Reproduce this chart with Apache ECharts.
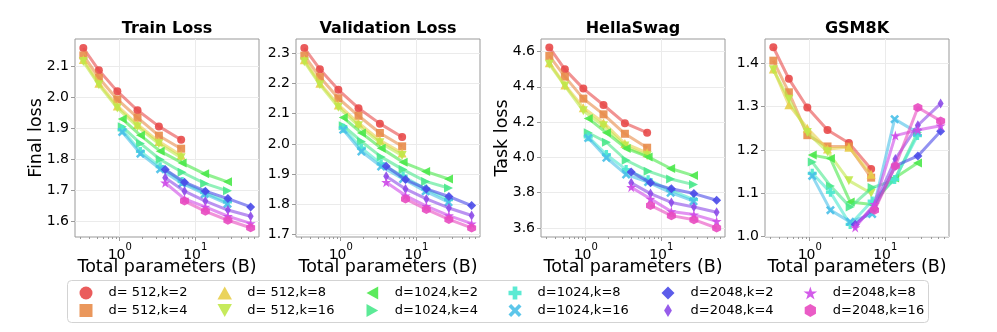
<!DOCTYPE html>
<html>
<head>
<meta charset="utf-8">
<script src="https://cdn.jsdelivr.net/npm/echarts@6/dist/echarts.min.js"></script>
<style>
  html, body { margin: 0; padding: 0; background: #fff; }
  #chart { width: 997px; height: 332px; }
</style>
</head>
<body>
<div id="chart"></div>
<script>
const seriesNames = ['d= 512,k=2', 'd= 512,k=4', 'd= 512,k=8', 'd= 512,k=16',
  'd=1024,k=2', 'd=1024,k=4', 'd=1024,k=8', 'd=1024,k=16',
  'd=2048,k=2', 'd=2048,k=4', 'd=2048,k=8', 'd=2048,k=16'];
const seriesColors = ['#e84a4a', '#e88c4a', '#e8ce4a', '#c0e84a',
  '#4ae84a', '#4ae88c', '#4ae8ce', '#4ac0e8',
  '#4a4ae8', '#8c4ae8', '#ce4ae8', '#e84ac0'];

// total parameters (B) of each model size
const paramsD512 = [0.33, 0.53, 0.93, 1.72, 3.3, 6.5];
const paramsD1024 = [1.08, 1.88, 3.43, 6.7, 13.3, 26.7];
const paramsD2048 = [4.0, 7.2, 13.6, 27, 54];
const paramsD2048k16 = [7.2, 13.6, 27, 54];

// one row per series, same order as seriesNames
const trainLoss = [
  [2.159, 2.087, 2.019, 1.958, 1.906, 1.863],
  [2.135, 2.063, 1.993, 1.934, 1.876, 1.834],
  [2.122, 2.045, 1.972, 1.912, 1.857, 1.813],
  [2.115, 2.040, 1.965, 1.905, 1.850, 1.805],
  [1.930, 1.877, 1.826, 1.788, 1.753, 1.727],
  [1.905, 1.851, 1.799, 1.758, 1.722, 1.698],
  [1.895, 1.825, 1.776, 1.728, 1.692, 1.662],
  [1.888, 1.818, 1.768, 1.722, 1.688, 1.656],
  [1.767, 1.726, 1.697, 1.673, 1.646],
  [1.740, 1.697, 1.665, 1.636, 1.616],
  [1.724, 1.672, 1.646, 1.616, 1.593],
  [1.665, 1.632, 1.603, 1.579]
];
const validLoss = [
  [2.317, 2.247, 2.179, 2.118, 2.067, 2.023],
  [2.292, 2.221, 2.151, 2.093, 2.036, 1.992],
  [2.278, 2.201, 2.129, 2.069, 2.012, 1.970],
  [2.272, 2.196, 2.121, 2.060, 2.004, 1.962],
  [2.087, 2.036, 1.986, 1.939, 1.909, 1.884],
  [2.060, 2.008, 1.957, 1.915, 1.876, 1.854],
  [2.052, 1.986, 1.934, 1.893, 1.851, 1.816],
  [2.047, 1.975, 1.925, 1.884, 1.843, 1.807],
  [1.926, 1.882, 1.851, 1.826, 1.796],
  [1.893, 1.851, 1.818, 1.788, 1.763],
  [1.873, 1.829, 1.794, 1.763, 1.736],
  [1.818, 1.783, 1.750, 1.722]
];
const hellaswagLoss = [
  [4.623, 4.499, 4.390, 4.297, 4.194, 4.140],
  [4.575, 4.458, 4.333, 4.244, 4.134, 4.055],
  [4.537, 4.410, 4.282, 4.197, 4.079, 4.026],
  [4.528, 4.405, 4.264, 4.179, 4.065, 4.010],
  [4.221, 4.140, 4.051, 4.003, 3.937, 3.897],
  [4.140, 4.086, 3.984, 3.922, 3.878, 3.846],
  [4.117, 4.016, 3.931, 3.874, 3.814, 3.761],
  [4.110, 3.998, 3.903, 3.860, 3.800, 3.752],
  [3.918, 3.856, 3.822, 3.795, 3.757],
  [3.856, 3.795, 3.745, 3.719, 3.689],
  [3.831, 3.765, 3.694, 3.676, 3.638],
  [3.728, 3.670, 3.647, 3.600]
];
const gsm8kLoss = [
  [1.437, 1.364, 1.298, 1.246, 1.216, 1.156],
  [1.406, 1.333, 1.234, 1.208, 1.208, 1.136],
  [1.387, 1.304, 1.250, 1.202, 1.206, 1.144],
  [1.385, 1.317, 1.240, 1.196, 1.129, 1.100],
  [1.188, 1.180, 1.080, 1.074, 1.135, 1.170],
  [1.172, 1.117, 1.068, 1.113, 1.130, 1.240],
  [1.146, 1.102, 1.028, 1.082, 1.132, 1.233],
  [1.140, 1.061, 1.034, 1.052, 1.271, 1.240],
  [1.028, 1.065, 1.163, 1.186, 1.243],
  [1.026, 1.071, 1.179, 1.257, 1.307],
  [1.021, 1.075, 1.233, 1.246, 1.256],
  [1.061, 1.163, 1.298, 1.267]
];

const panelTitles = ['Train Loss', 'Validation Loss', 'HellaSwag', 'GSM8K'];
const panelYNames = ['Final loss', '', 'Task loss', ''];
const trainTicks = [1.6, 1.7, 1.8, 1.9, 2.0, 2.1];
const validTicks = [1.7, 1.8, 1.9, 2.0, 2.1, 2.2, 2.3];
const hellaswagTicks = [3.6, 3.8, 4.0, 4.2, 4.4, 4.6];
const gsm8kTicks = [1.0, 1.1, 1.2, 1.3, 1.4];
const xMajorTicks = [1, 10];
const xMinorTicks = [0.3, 0.4, 0.5, 0.6, 0.7, 0.8, 0.9, 2, 3, 4, 5, 6, 7, 8, 9, 20, 30, 40, 50, 60];

const FONT = 'DejaVu Sans';
const panelData = [trainLoss, validLoss, hellaswagLoss, gsm8kLoss];
const panelTicks = [trainTicks, validTicks, hellaswagTicks, gsm8kTicks];
const panelYRange = [[1.549, 2.188], [1.692, 2.347], [3.549, 4.671], [0.999, 1.456]];
const gridLeft = [75, 296, 541, 765];
const gridW = 184, gridTop = 39, gridH = 198;
const xRange = [0.256, 69.7];

const S = 'path://';
const seriesSymbols = [
  'circle',
  S + 'M0,0H10V10H0Z',
  S + 'M5,0L10,9L0,9Z',
  S + 'M0,1L10,1L5,10Z',
  S + 'M10,0L10,10L1,5Z',
  S + 'M0,0L0,10L9,5Z',
  S + 'M3.2,0H6.8V3.2H10V6.8H6.8V10H3.2V6.8H0V3.2H3.2Z',
  S + 'M2,0L5,3L8,0L10,2L7,5L10,8L8,10L5,7L2,10L0,8L3,5L0,2Z',
  S + 'M5,0L10,5L5,10L0,5Z',
  S + 'M3,0L6,5L3,10L0,5Z',
  S + 'M50,0L61.2,34.5L97.6,34.5L68.2,55.9L79.4,90.5L50,69.1L20.6,90.5L31.8,55.9L2.4,34.5L38.8,34.5Z',
  S + 'M50,0L93.3,25L93.3,75L50,100L6.7,75L6.7,25Z'
];
const seriesSizes = [8, 8, 9, 9, 9, 9, 9, 9, 9, [6, 10], 10, 9];

function paramsFor(i) {
  if (i < 4) return paramsD512;
  if (i < 8) return paramsD1024;
  if (i < 11) return paramsD2048;
  return paramsD2048k16;
}

const chart = echarts.init(document.getElementById('chart'), null, {renderer: 'canvas'});

const grid = [], xAxis = [], yAxis = [], series = [], graphic = [];
for (let p = 0; p < 4; p++) {
  grid.push({left: gridLeft[p], top: gridTop, width: gridW, height: gridH,
    show: true, borderColor: '#999', borderWidth: 1, backgroundColor: '#fff'});
  // major axis
  xAxis.push({
    type: 'log', logBase: 10, gridIndex: p, min: xRange[0], max: xRange[1],
    name: 'Total parameters (B)', nameLocation: 'middle', nameGap: 21, nameMoveOverlap: false,
    nameTextStyle: {fontFamily: FONT, fontSize: 17.5, color: '#000'},
    axisLine: {show: false},
    axisTick: {show: true, length: 4, customValues: xMajorTicks, lineStyle: {color: '#999'}},
    axisLabel: {
      customValues: xMajorTicks, margin: 5, color: '#000', fontFamily: FONT,
      formatter: v => '{b|10}{s|' + Math.round(Math.log10(v)) + '}',
      rich: {
        b: {fontFamily: FONT, fontSize: 14, color: '#000', verticalAlign: 'bottom', lineHeight: 20},
        s: {fontFamily: FONT, fontSize: 10, color: '#000', verticalAlign: 'top', lineHeight: 20}
      }
    },
    splitLine: {show: true, lineStyle: {color: '#ebebeb', width: 1}}
  });
  // minor ticks only
  xAxis.push({
    type: 'log', logBase: 10, gridIndex: p, min: xRange[0], max: xRange[1], position: 'bottom',
    axisLine: {show: false},
    axisTick: {show: true, length: 2, customValues: xMinorTicks, lineStyle: {color: '#999'}},
    axisLabel: {show: false},
    splitLine: {show: false}
  });
  yAxis.push({
    type: 'value', gridIndex: p, min: panelYRange[p][0], max: panelYRange[p][1],
    name: panelYNames[p], nameLocation: 'middle', nameGap: 29.5, nameMoveOverlap: false,
    nameTextStyle: {fontFamily: FONT, fontSize: 17.5, color: '#000'},
    axisLine: {show: false},
    axisTick: {show: true, length: 4, customValues: panelTicks[p], lineStyle: {color: '#999'}},
    axisLabel: {customValues: panelTicks[p], margin: 6, color: '#000', fontFamily: FONT, fontSize: 14,
      formatter: v => v.toFixed(1)},
    splitLine: {show: true, lineStyle: {color: '#ebebeb', width: 1}}
  });
  graphic.push({type: 'text', x: gridLeft[p] + gridW / 2, y: 29,
    style: {text: panelTitles[p], align: 'center', verticalAlign: 'middle',
      font: 'bold 16px "' + FONT + '"', fill: '#000'}});

  panelData[p].forEach((vals, i) => {
    const xs = paramsFor(i);
    series.push({
      type: 'line', name: seriesNames[i], xAxisIndex: p * 2, yAxisIndex: p,
      data: vals.map((v, j) => [xs[j], v]),
      symbol: seriesSymbols[i], symbolSize: seriesSizes[i],
      lineStyle: {color: seriesColors[i], width: 3, opacity: 0.6},
      itemStyle: {color: seriesColors[i], opacity: 0.9},
      emphasis: {disabled: true},
      z: 2 + i
    });
  });
}

// legend frame
graphic.push({type: 'rect', shape: {x: 67.5, y: 280.5, width: 861, height: 42, r: 4},
  style: {fill: '#fff', stroke: '#d3d3d3', lineWidth: 1}, z: -1});

const legendMarkerX = [86, 224, 373, 515, 668, 810];
const legend = [];
for (let c = 0; c < 6; c++) {
  legend.push({
    orient: 'vertical', left: legendMarkerX[c] - 11.5, top: 281.5, itemWidth: 35, itemHeight: 13,
    itemGap: 4.5, symbolKeepAspect: true,
    textStyle: {fontFamily: FONT, fontSize: 13, color: '#000'},
    data: [0, 1].map(r => ({name: seriesNames[c * 2 + r], icon: seriesSymbols[c * 2 + r]})),
    selectedMode: false
  });
}

chart.setOption({
  animation: false,
  color: seriesColors,
  grid, xAxis, yAxis, series, legend, graphic
});
</script>
</body>
</html>
